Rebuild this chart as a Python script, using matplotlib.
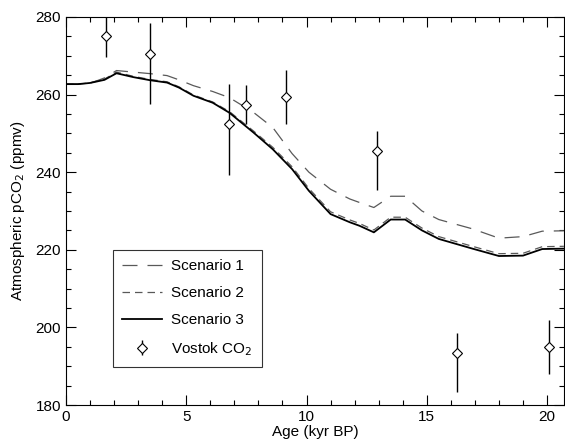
import matplotlib
matplotlib.use("Agg")
import matplotlib.pyplot as plt
from matplotlib.ticker import MultipleLocator

plt.rcParams['font.family'] = ['Liberation Sans', 'DejaVu Sans']

# model scenarios (age in kyr BP, pCO2 in ppmv)
age = [0.0, 0.5, 1.0, 1.3, 1.6, 2.1, 2.8, 3.5, 4.2, 4.7, 5.3, 6.1, 6.8, 7.8,
       8.6, 9.4, 10.1, 11.0, 11.8, 12.2, 12.8, 13.5, 14.1, 14.8, 15.5, 16.9,
       18.0, 19.0, 19.8, 20.7]
scen1 = [262.7, 262.7, 263.0, 263.6, 264.3, 266.2, 265.8, 265.4, 264.9, 263.8,
         262.3, 260.8, 259.2, 255.4, 251.5, 244.8, 240.0, 235.6, 233.1, 232.2,
         230.9, 233.8, 233.8, 230.0, 227.8, 225.4, 223.0, 223.4, 224.8, 224.9]
scen2 = [262.7, 262.7, 263.0, 263.5, 264.0, 265.8, 264.7, 263.9, 263.3, 262.0,
         259.9, 258.1, 255.6, 250.6, 246.4, 241.4, 235.8, 229.8, 227.7, 226.8,
         225.1, 228.4, 228.4, 225.6, 223.4, 220.9, 219.0, 219.1, 220.8, 220.9]
scen3 = [262.7, 262.7, 263.0, 263.4, 263.8, 265.5, 264.5, 263.7, 263.1, 261.8,
         259.7, 257.9, 255.3, 250.2, 245.9, 240.8, 235.2, 229.2, 227.1, 226.2,
         224.5, 227.8, 227.8, 225.0, 222.8, 220.3, 218.4, 218.5, 220.2, 220.3]

# Vostok ice core CO2 (asymmetric uncertainties)
vostok_age = [1.66, 3.49, 6.77, 7.48, 9.14, 12.92, 16.24, 20.1]
vostok_co2 = [275.0, 270.4, 252.5, 257.4, 259.4, 245.4, 193.5, 194.9]
vostok_err_lo = [5.2, 12.9, 13.3, 5.1, 7.1, 10.0, 10.2, 6.9]
vostok_err_hi = [5.0, 8.1, 10.3, 5.0, 7.0, 5.1, 5.0, 7.0]

fig = plt.figure(figsize=(5.65, 4.46), dpi=100)
ax = fig.add_axes([0.1168, 0.0919, 0.8812, 0.870])

ax.plot(age, scen1, color='0.35', lw=0.9, dashes=(12, 8), label='Scenario 1')
ax.plot(age, scen2, color='0.35', lw=0.9, dashes=(6, 4), label='Scenario 2')
ax.plot(age, scen3, color='black', lw=1.3, label='Scenario 3')
ax.errorbar(vostok_age, vostok_co2, yerr=[vostok_err_lo, vostok_err_hi],
            fmt='D', ms=5.5, mfc='white', mec='black', mew=0.8,
            ecolor='black', elinewidth=1.0, capsize=0, label='Vostok CO$_2$')

ax.set_xlim(0, 20.7)
ax.set_ylim(180, 280)
ax.xaxis.set_major_locator(MultipleLocator(5))
ax.xaxis.set_minor_locator(MultipleLocator(1))
ax.yaxis.set_major_locator(MultipleLocator(20))
ax.yaxis.set_minor_locator(MultipleLocator(5))
ax.tick_params(which='both', direction='in', top=True, right=True,
               labelsize=11, width=0.8)
ax.tick_params(which='major', length=7)
ax.tick_params(which='minor', length=3.5)
for s in ax.spines.values():
    s.set_linewidth(0.8)

ax.set_xlabel('Age (kyr BP)', fontsize=11, labelpad=1)
ax.set_ylabel('Atmospheric pCO$_2$ (ppmv)', fontsize=11, labelpad=6)

leg = ax.legend(loc='lower left', bbox_to_anchor=(0.094, 0.098), fontsize=11,
                frameon=True, fancybox=False, edgecolor='black',
                borderaxespad=0, handlelength=2.6, handletextpad=0.6,
                borderpad=0.6, labelspacing=0.85)
leg.get_frame().set_linewidth(0.8)

fig.savefig('out.png', dpi=100)
